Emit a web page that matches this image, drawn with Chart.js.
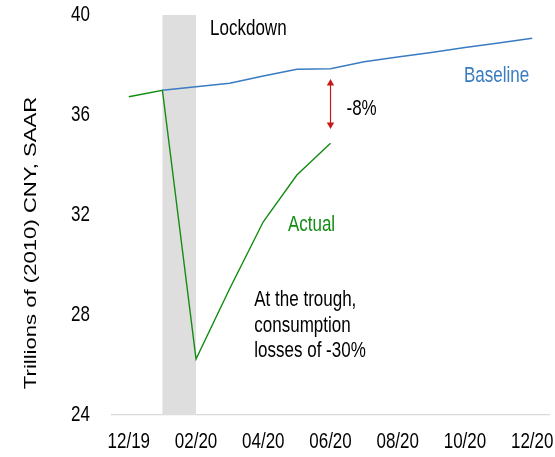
<!DOCTYPE html>
<html>
<head>
<meta charset="utf-8">
<script src="https://cdn.jsdelivr.net/npm/chart.js@4.4.1/dist/chart.umd.min.js"></script>
<style>
  html, body { margin: 0; padding: 0; background: #ffffff; }
  canvas { display: block; }
</style>
</head>
<body>
<canvas id="chart" width="555" height="457"></canvas>
<script>
// Monthly categories, Dec 2019 to Dec 2020
const months = ['12/19', '01/20', '02/20', '03/20', '04/20', '05/20', '06/20',
                '07/20', '08/20', '09/20', '10/20', '11/20', '12/20'];

// Consumption, trillions of 2010 CNY (SAAR)
const actual   = [36.73, 36.99, 26.24, 29.05, 31.73, 33.60, 34.87,
                  null, null, null, null, null, null];
const baseline = [null, 36.99, 37.13, 37.27, 37.56, 37.83, 37.85,
                  38.13, 38.32, 38.50, 38.70, 38.88, 39.07];

// Value axis
const yTicks = [24, 28, 32, 36, 40];

// Lockdown period (category indices) and the gap marker at 06/20
const lockdownSpan = [1, 2];
const gapMarker = { index: 6, top: 37.44, bottom: 35.44 };

const FONT = '"Liberation Sans", Arial, sans-serif';
const SY = 1.3; // tall, narrow lettering

function stretchedText(ctx, text, x, y, opts) {
  ctx.save();
  ctx.translate(x, y);
  if (opts.rotate) ctx.rotate(opts.rotate);
  if (opts.rotate) ctx.scale(SY, 1); else ctx.scale(1, SY);
  ctx.font = (opts.size || 17) + 'px ' + FONT;
  ctx.fillStyle = opts.color || '#000000';
  ctx.textAlign = opts.align || 'left';
  ctx.textBaseline = opts.baseline || 'alphabetic';
  ctx.fillText(text, 0, 0);
  ctx.restore();
}

const lockdownBand = {
  id: 'lockdownBand',
  beforeDatasetsDraw(chart) {
    const { ctx, chartArea, scales: { x } } = chart;
    const x0 = x.getPixelForValue(lockdownSpan[0]);
    const x1 = x.getPixelForValue(lockdownSpan[1]);
    ctx.save();
    ctx.fillStyle = '#dedede';
    ctx.fillRect(x0, chartArea.top, x1 - x0, chartArea.bottom - chartArea.top);
    ctx.restore();
  }
};

const labelsAndNotes = {
  id: 'labelsAndNotes',
  afterDraw(chart) {
    const { ctx, chartArea, scales: { x, y } } = chart;

    // y tick labels
    yTicks.forEach(v => {
      stretchedText(ctx, String(v), 90, y.getPixelForValue(v),
        { align: 'right', baseline: 'middle' });
    });

    // x tick labels, every other month
    months.forEach((m, i) => {
      if (i % 2 === 0) {
        stretchedText(ctx, m, x.getPixelForValue(i), 448, { align: 'center' });
      }
    });

    // y axis title
    stretchedText(ctx, 'Trillions of (2010) CNY, SAAR', 36, 243,
      { align: 'center', rotate: -Math.PI / 2 });

    // annotations
    stretchedText(ctx, 'Lockdown', x.getPixelForValue(lockdownSpan[1]) + 14,
      y.getPixelForValue(39.2), {});
    stretchedText(ctx, 'Baseline', x.getPixelForValue(12) - 3,
      y.getPixelForValue(37.32), { align: 'right', color: '#3a7cc1' });
    stretchedText(ctx, 'Actual', x.getPixelForValue(5) - 9,
      y.getPixelForValue(31.37), { color: '#128c12' });
    stretchedText(ctx, '-8%', x.getPixelForValue(gapMarker.index) + 16,
      y.getPixelForValue(36.0), {});
    const tx = x.getPixelForValue(4) - 9;
    const ty = y.getPixelForValue(28.36);
    ['At the trough,', 'consumption', 'losses of -30%'].forEach((line, k) => {
      stretchedText(ctx, line, tx, ty + k * 25.7, {});
    });

    // double-headed arrow between the two paths
    const ax = x.getPixelForValue(gapMarker.index);
    const aTop = y.getPixelForValue(gapMarker.top);
    const aBot = y.getPixelForValue(gapMarker.bottom);
    const head = 6.5, half = 3.7;
    ctx.save();
    ctx.strokeStyle = '#c41a1a';
    ctx.fillStyle = '#c41a1a';
    ctx.lineWidth = 1.2;
    ctx.beginPath();
    ctx.moveTo(ax, aTop + head - 1);
    ctx.lineTo(ax, aBot - head + 1);
    ctx.stroke();
    ctx.beginPath();
    ctx.moveTo(ax, aTop);
    ctx.lineTo(ax - half, aTop + head);
    ctx.lineTo(ax + half, aTop + head);
    ctx.closePath();
    ctx.fill();
    ctx.beginPath();
    ctx.moveTo(ax, aBot);
    ctx.lineTo(ax - half, aBot - head);
    ctx.lineTo(ax + half, aBot - head);
    ctx.closePath();
    ctx.fill();
    ctx.restore();
  }
};

new Chart(document.getElementById('chart'), {
  type: 'line',
  data: {
    labels: months,
    datasets: [
      {
        label: 'Baseline',
        data: baseline,
        borderColor: '#3a7cc1',
        borderWidth: 1.6,
        pointRadius: 0,
        tension: 0,
        spanGaps: false
      },
      {
        label: 'Actual',
        data: actual,
        borderColor: '#128c12',
        borderWidth: 1.4,
        pointRadius: 0,
        tension: 0,
        spanGaps: false
      }
    ]
  },
  options: {
    responsive: false,
    devicePixelRatio: 1,
    animation: false,
    layout: { padding: { top: 15, right: 6, left: 0, bottom: 0 } },
    plugins: {
      legend: { display: false },
      tooltip: { enabled: false },
      title: { display: false }
    },
    scales: {
      x: {
        type: 'category',
        offset: true,
        grid: { display: false },
        border: { display: true, color: '#d9d9d9', width: 1.2 },
        ticks: { display: false },
        afterFit(scale) { scale.height = 42; }
      },
      y: {
        min: 24,
        max: 40,
        grid: { display: false },
        border: { display: false },
        ticks: { display: false, stepSize: 4 },
        afterFit(scale) { scale.width = 112; }
      }
    }
  },
  plugins: [lockdownBand, labelsAndNotes]
});
</script>
</body>
</html>
